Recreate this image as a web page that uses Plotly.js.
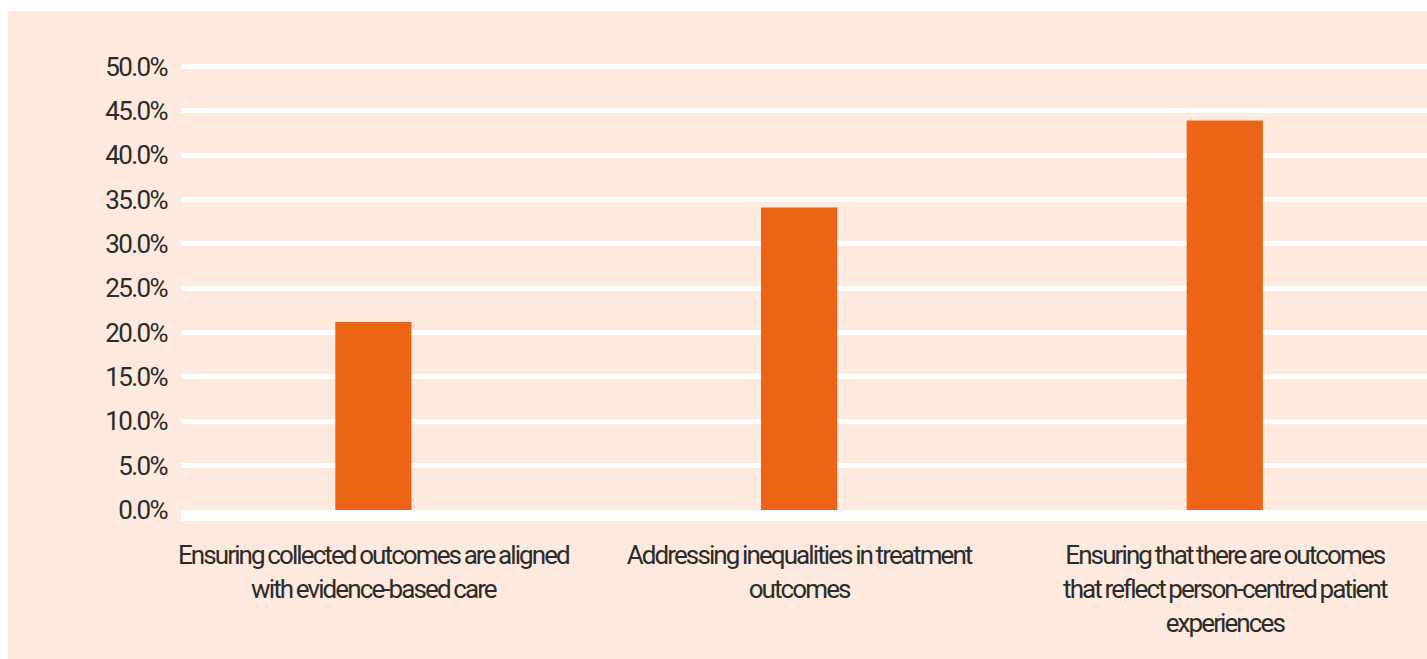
<!DOCTYPE html>
<html>
<head>
<meta charset="utf-8">
<script src="https://cdn.plot.ly/plotly-3.0.1.min.js"></script>
<style>
  html, body { margin: 0; padding: 0; background: #ffffff; }
  #chart { position: absolute; left: 8px; top: 11px; width: 1419px; height: 648px; }
  .ytick text { letter-spacing: -1.6px; }
  .xtick text { letter-spacing: -1.9px; word-spacing: -1px; }
</style>
</head>
<body>
<div id="chart"></div>
<script>
const categories = [
  "Ensuring collected outcomes are aligned<br>with evidence-based care",
  "Addressing inequalities in treatment<br>outcomes",
  "Ensuring that there are outcomes<br>that reflect person-centred patient<br>experiences"
];
const values = [21.2, 34.1, 43.9];
const tickValues = [0, 5, 10, 15, 20, 25, 30, 35, 40, 45, 50];
const tickLabels = ["0.0%", "5.0%", "10.0%", "15.0%", "20.0%", "25.0%", "30.0%", "35.0%", "40.0%", "45.0%", "50.0%"];

const trace = {
  type: "bar",
  x: categories,
  y: values,
  width: 0.179,
  marker: { color: "#ec6516", line: { width: 0 } },
  hoverinfo: "skip"
};

const layout = {
  width: 1419,
  height: 648,
  margin: { l: 173, r: 0, t: 49, b: 149, pad: 0 },
  paper_bgcolor: "#fde9dd",
  plot_bgcolor: "#fde9dd",
  showlegend: false,
  font: { family: "Roboto, 'Noto Sans', sans-serif", color: "#2b2b2b", size: 26 },
  xaxis: {
    type: "category",
    range: [-0.452, 2.475],
    showgrid: false,
    zeroline: false,
    showline: true,
    linecolor: "#ffffff",
    linewidth: 11,
    ticks: "",
    tickangle: 0,
    ticklabelstandoff: 12,
    tickfont: { size: 26, color: "#2b2b2b" },
    automargin: false,
    fixedrange: true
  },
  yaxis: {
    range: [0, 50.73],
    tickmode: "array",
    tickvals: tickValues,
    ticktext: tickLabels,
    showgrid: true,
    gridcolor: "#ffffff",
    gridwidth: 5,
    zeroline: false,
    showline: false,
    ticks: "",
    ticklabelstandoff: 13,
    tickfont: { size: 26, color: "#2b2b2b" },
    automargin: false,
    fixedrange: true
  }
};

Plotly.newPlot("chart", [trace], layout, { displayModeBar: false, staticPlot: true });
</script>
</body>
</html>
